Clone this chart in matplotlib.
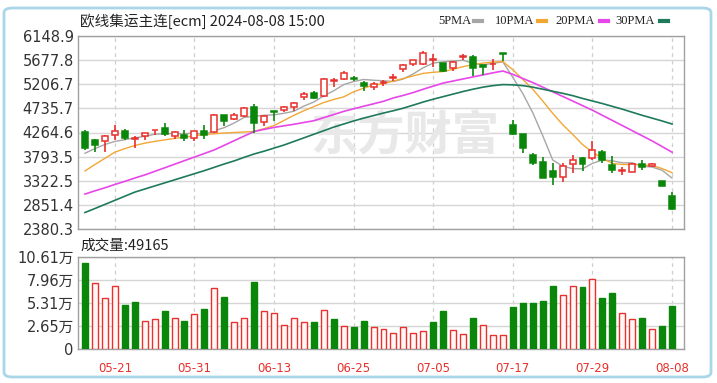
import numpy as np
import matplotlib
matplotlib.use('Agg')
import matplotlib.pyplot as plt
from matplotlib.patches import FancyBboxPatch
from matplotlib.lines import Line2D

plt.rcParams['font.family'] = ['DejaVu Sans', 'Noto Sans CJK SC']

# trading days shown
dates = ['05-16', '05-17', '05-20', '05-21', '05-22', '05-23', '05-24', '05-27', '05-28', '05-29',
         '05-30', '05-31', '06-03', '06-04', '06-05', '06-06', '06-07', '06-11', '06-12', '06-13',
         '06-14', '06-17', '06-18', '06-19', '06-20', '06-21', '06-24', '06-25', '06-26', '06-27',
         '06-28', '07-01', '07-02', '07-03', '07-04', '07-05', '07-08', '07-09', '07-10', '07-11',
         '07-12', '07-15', '07-16', '07-17', '07-18', '07-19', '07-22', '07-23', '07-24', '07-25',
         '07-26', '07-29', '07-30', '07-31', '08-01', '08-02', '08-05', '08-06', '08-07', '08-08']
shown_dates = ['05-21', '05-31', '06-13', '06-25', '07-05', '07-17', '07-29', '08-08']

# OHLC
opens = [4272, 4122, 4102, 4220, 4298, 4135, 4200, 4311, 4350, 4200,
         4220, 4154, 4298, 4265, 4612, 4534, 4579, 4756, 4468, 4691,
         4710, 4756, 4952, 5037, 4972, 5273, 5312, 5325, 5233, 5148,
         5233, 5325, 5495, 5606, 5606, 5672, 5613, 5528, 5737, 5737,
         5573, 5593, 5809, 4403, 4233, 3827, 3696, 3513, 3402, 3644,
         3762, 3775, 3880, 3631, 3513, 3500, 3644, 3605, 3324, 3023]
highs = [4318, 4130, 4207, 4403, 4331, 4187, 4252, 4318, 4449, 4285,
         4318, 4298, 4416, 4632, 4612, 4645, 4756, 4828, 4612, 4691,
         4789, 4861, 5050, 5083, 5331, 5331, 5462, 5364, 5266, 5246,
         5299, 5410, 5606, 5685, 5855, 5789, 5626, 5659, 5802, 5776,
         5580, 5691, 5809, 4514, 4233, 3873, 3795, 3664, 3664, 3827,
         3789, 4089, 3925, 3814, 3598, 3676, 3729, 3660, 3324, 3108]
lows = [3925, 3893, 3893, 4122, 4122, 3971, 4122, 4220, 4187, 4135,
        4102, 4089, 4135, 4246, 4383, 4501, 4570, 4252, 4383, 4481,
        4664, 4678, 4906, 4925, 4959, 5155, 5286, 5279, 5083, 5102,
        5181, 5266, 5449, 5560, 5573, 5541, 5443, 5462, 5672, 5364,
        5397, 5482, 5659, 4220, 3873, 3631, 3369, 3239, 3304, 3481,
        3513, 3729, 3664, 3481, 3435, 3487, 3533, 3595, 3219, 2748]
closes = [3958, 4023, 4187, 4298, 4154, 4154, 4246, 4318, 4233, 4265,
          4154, 4298, 4220, 4612, 4481, 4612, 4743, 4449, 4579, 4664,
          4763, 4841, 5024, 4939, 5312, 5299, 5430, 5312, 5168, 5220,
          5246, 5345, 5573, 5672, 5822, 5691, 5462, 5639, 5757, 5528,
          5541, 5606, 5789, 4239, 3958, 3664, 3383, 3402, 3611, 3729,
          3644, 3925, 3729, 3533, 3533, 3644, 3598, 3640, 3219, 2768]

# moving averages
ma5 = [3860, 3950, 4030, 4090, 4124, 4160, 4190, 4230, 4240, 4245,
       4240, 4255, 4225, 4300, 4360, 4450, 4560, 4580, 4600, 4610,
       4640, 4680, 4780, 4860, 4980, 5080, 5200, 5260, 5300, 5285,
       5275, 5260, 5310, 5410, 5530, 5620, 5645, 5660, 5675, 5615,
       5585, 5615, 5645, 5340, 5025, 4650, 4205, 3730, 3605, 3560,
       3555, 3662, 3728, 3712, 3673, 3673, 3607, 3590, 3527, 3374]
ma10 = [3513, 3640, 3760, 3880, 3950, 4010, 4056, 4090, 4120, 4150,
        4175, 4200, 4225, 4240, 4255, 4265, 4275, 4285, 4340, 4400,
        4500, 4600, 4690, 4770, 4850, 4910, 4960, 5060, 5130, 5190,
        5220, 5270, 5320, 5370, 5420, 5440, 5455, 5500, 5550, 5590,
        5620, 5640, 5650, 5490, 5300, 5110, 4880, 4640, 4420, 4230,
        4030, 3880, 3760, 3660, 3640, 3640, 3630, 3620, 3560, 3480]
ma20 = [3062, 3125, 3185, 3250, 3310, 3375, 3435, 3505, 3575, 3645,
        3715, 3785, 3855, 3925, 4015, 4105, 4195, 4285, 4325, 4364,
        4395, 4425, 4460, 4494, 4555, 4615, 4677, 4727, 4777, 4825,
        4874, 4940, 4990, 5045, 5110, 5170, 5230, 5270, 5310, 5350,
        5390, 5430, 5465, 5400, 5320, 5240, 5150, 5060, 4970, 4880,
        4790, 4700, 4600, 4500, 4400, 4300, 4200, 4100, 3990, 3880]
ma30 = [2702, 2780, 2860, 2940, 3020, 3100, 3160, 3220, 3280, 3340,
        3400, 3460, 3520, 3585, 3650, 3710, 3780, 3845, 3900, 3960,
        4020, 4090, 4160, 4230, 4300, 4370, 4430, 4490, 4545, 4595,
        4645, 4690, 4740, 4800, 4860, 4915, 4965, 5015, 5065, 5110,
        5150, 5180, 5200, 5195, 5180, 5150, 5110, 5070, 5030, 4985,
        4930, 4880, 4830, 4775, 4720, 4660, 4600, 4545, 4490, 4430]

# volume and its up/down colouring
volumes = [99200, 75700, 58800, 73000, 51100, 54200, 32700, 34200, 43400, 35400,
           32700, 40400, 46500, 70700, 60400, 31100, 35800, 77300, 43400, 41900,
           28100, 35400, 31100, 31100, 45000, 34200, 26500, 25000, 32700, 25000,
           23500, 18800, 25000, 18800, 20400, 31100, 43400, 21900, 17300, 35800,
           28100, 15800, 15800, 48000, 52700, 52700, 55700, 72600, 61900, 72600,
           71100, 80300, 58800, 65000, 41900, 34200, 35800, 23500, 26500, 49165]
vol_up = [0, 1, 1, 1, 0, 0, 1, 1, 0, 1, 0, 1, 0, 1, 0, 1, 1, 0, 1, 1,
          1, 1, 1, 0, 1, 0, 1, 0, 0, 1, 1, 1, 1, 1, 1, 0, 0, 1, 1, 0,
          1, 1, 1, 0, 0, 0, 0, 0, 1, 1, 0, 1, 0, 0, 1, 1, 0, 1, 0, 0]

price_ticks = [2380.3, 2851.4, 3322.5, 3793.5, 4264.6, 4735.7, 5206.7, 5677.8, 6148.9]
vol_ticks = [0, 26525, 53050, 79575, 106100]
vol_labels = ['0', '2.65万', '5.31万', '7.96万', '10.61万']

RED = '#e8302c'
GREEN = '#0a870a'
W, H = 717, 383


def fx(x):
    return x / W


def fy(y):
    return 1 - y / H


fig = plt.figure(figsize=(W / 100, H / 100), dpi=100)
fig.patch.set_facecolor('white')
fig.add_artist(FancyBboxPatch((fx(4), fy(377)), fx(707), 369 / H,
                              boxstyle='round,pad=0,rounding_size=0.012',
                              transform=fig.transFigure, fc='none', ec='#a9d6e8', lw=2))

ax = fig.add_axes([fx(78), fy(229), fx(606), 193 / H])
axv = fig.add_axes([fx(78), fy(349), fx(606), 92 / H])

x = np.arange(len(dates))
o, h, l, c = map(np.array, (opens, highs, lows, closes))
up = c >= o
xt = [dates.index(d) for d in shown_dates]

for a in (ax, axv):
    a.set_xlim(-0.7, 60.2)
    for s in a.spines.values():
        s.set_color('#a0a0a0')
        s.set_linewidth(1)
    a.set_xticks(xt)
    for t in xt:
        a.axvline(t, color='#cfcfcf', lw=0.9, ls=(0, (3, 3)), zorder=0)
    a.tick_params(length=0, labelsize=10.5, colors='#333333', pad=3)

# price panel
ax.set_ylim(price_ticks[0], price_ticks[-1])
ax.set_yticks(price_ticks)
ax.set_yticklabels([f'{v:.1f}' for v in price_ticks])
ax.set_xticklabels([])
for v in price_ticks:
    ax.axhline(v, color='#d6d6d6', lw=1, zorder=0)

ax.text(0.54, 0.48, '东方财富', transform=ax.transAxes, ha='center', va='center',
        fontsize=34, fontweight='bold', color='#e8e8e8', zorder=0,
        family=['Noto Sans CJK SC'])

ax.plot(x, ma5, color='#a6a6a6', lw=1, zorder=2)
ax.plot(x, ma10, color='#f2a735', lw=1, zorder=2)
ax.plot(x, ma20, color='#e746e8', lw=1.2, zorder=2)
ax.plot(x, ma30, color='#1f7a5c', lw=1.2, zorder=2)

cols = np.where(up, RED, GREEN)
ax.vlines(x, l, h, colors=cols, lw=1.2, zorder=3)
body_lo = np.minimum(o, c)
body_h = np.maximum(np.abs(c - o), 12)
ax.bar(x, body_h, bottom=body_lo, width=0.6,
       color=np.where(up, 'white', GREEN), edgecolor=cols, lw=1.1, zorder=4)

# volume panel
axv.set_ylim(0, vol_ticks[-1])
axv.set_yticks(vol_ticks)
axv.set_yticklabels(vol_labels)
axv.set_xticklabels(shown_dates, color=RED, fontsize=8.5)
axv.tick_params(axis='x', pad=9)
for v in vol_ticks:
    axv.axhline(v, color='#d6d6d6', lw=1, zorder=0)
vu = np.array(vol_up) == 1
axv.bar(x, volumes, width=0.6, color=np.where(vu, '#fff6f6', GREEN),
        edgecolor=np.where(vu, RED, GREEN), lw=1, zorder=3)

# header texts
cjk = ['Noto Sans CJK SC', 'DejaVu Sans']
fig.text(fx(80), fy(21), '欧线集运主连[ecm] 2024-08-08 15:00', ha='left', va='center',
         fontsize=10.5, color='#222222', family=cjk)
fig.text(fx(80), fy(246), '成交量:49165', ha='left', va='center',
         fontsize=10.5, color='#222222', family=cjk)

legend = [('5PMA', '#a6a6a6', 438, 474), ('10PMA', '#f2a735', 495, 538),
          ('20PMA', '#e746e8', 555, 600), ('30PMA', '#1f7a5c', 615, 660)]
for name, col, px, dx in legend:
    fig.text(fx(px), fy(21), name, ha='left', va='center', fontsize=9,
             color='#222222', family=['Liberation Serif'])
    fig.add_artist(Line2D([fx(dx), fx(dx + 8)], [fy(21), fy(21)],
                          transform=fig.transFigure, color=col, lw=3))

fig.savefig('out.png', dpi=100)
